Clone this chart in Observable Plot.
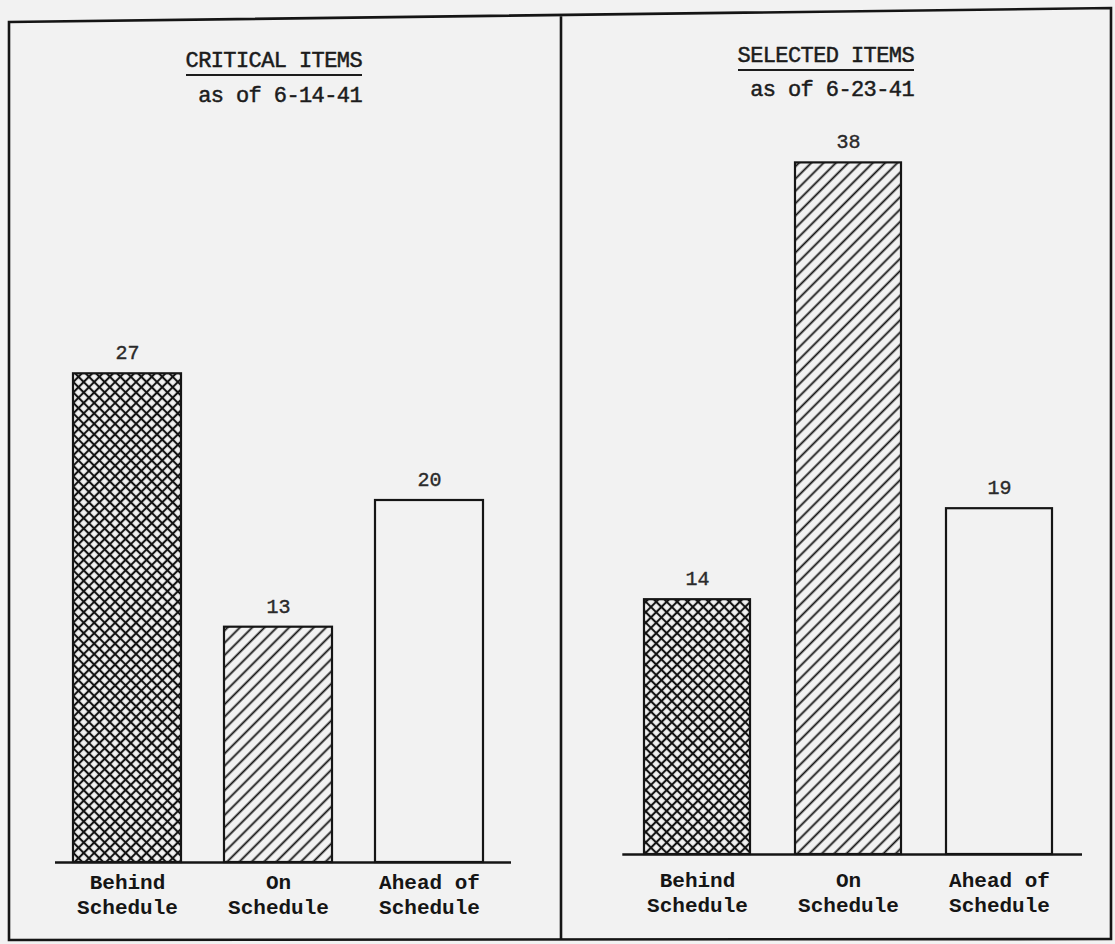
<!DOCTYPE html>
<html>
<head>
<meta charset="utf-8">
<script src="https://cdn.jsdelivr.net/npm/d3@7"></script>
<script src="https://cdn.jsdelivr.net/npm/@observablehq/plot@0.6"></script>
<style>
  html, body { margin: 0; padding: 0; background: #f2f2f2; }
  #page { position: relative; width: 1115px; height: 944px; overflow: hidden; background: #f2f2f2; }
  .panel { position: absolute; top: 0; }
  .ttl { position: absolute; font-family: "Liberation Mono", "Courier New", monospace; font-size: 22px; line-height: 22px;
         letter-spacing: -0.6px; color: #1c1c1c; text-align: right; -webkit-text-stroke: 0.5px #1c1c1c; white-space: pre; }
  .ttl span.u { display: inline-block; border-bottom: 2.5px solid #1c1c1c; line-height: 22px; padding-bottom: 1px; }
  svg.frame { position: absolute; left: 0; top: 0; pointer-events: none; }
</style>
</head>
<body>
<div id="page">
  <svg width="0" height="0" style="position:absolute">
    <defs>
      <pattern id="crosshatch" patternUnits="userSpaceOnUse" width="7.4" height="7.4" patternTransform="rotate(45)">
        <rect width="7.4" height="7.4" fill="#f2f2f2"></rect>
        <line x1="3.7" y1="0" x2="3.7" y2="7.4" stroke="#121212" stroke-width="2.1"></line>
        <line x1="0" y1="3.7" x2="7.4" y2="3.7" stroke="#121212" stroke-width="2.1"></line>
      </pattern>
      <pattern id="diagonal" patternUnits="userSpaceOnUse" width="8.7" height="8.7" patternTransform="rotate(45)">
        <rect width="8.7" height="8.7" fill="#f2f2f2"></rect>
        <line x1="4.35" y1="0" x2="4.35" y2="8.7" stroke="#121212" stroke-width="1.8"></line>
      </pattern>
    </defs>
  </svg>
</div>
<script>
// ---- data ----
const categories = ["Behind Schedule", "On Schedule", "Ahead of Schedule"];
const criticalValues = [27, 13, 20];
const selectedValues = [14, 38, 19];
const panelTitles = ["CRITICAL ITEMS", "SELECTED ITEMS"];
const panelDates = ["as of 6-14-41", "as of 6-23-41"];

const BG = "#f2f2f2";
const INK = "#151515";
const FONT = "'Liberation Mono', 'Courier New', monospace";

const page = document.getElementById("page");

function panelChart(values, cfg) {
  const data = categories.map((c, i) => ({cat: c, value: values[i]}));
  return Plot.plot({
    width: cfg.width,
    height: 944,
    marginLeft: cfg.ml, marginRight: cfg.mr, marginTop: cfg.mt, marginBottom: cfg.mb,
    x: {domain: categories, padding: cfg.pad},
    y: {domain: [0, 40], axis: null},
    color: {domain: categories, range: ["url(#crosshatch)", "url(#diagonal)", BG]},
    style: {background: "transparent", fontFamily: FONT, color: INK, overflow: "visible"},
    marks: [
      Plot.barY(data, {x: "cat", y: "value", fill: "cat", stroke: INK, strokeWidth: 2.2}),
      Plot.ruleY([0], {stroke: INK, strokeWidth: 2.5, insetLeft: cfg.il, insetRight: cfg.ir}),
      Plot.text(data, {x: "cat", y: "value", text: d => String(d.value), dy: -21, fontSize: 20,
                       fill: "#2a2a2a", stroke: "#2a2a2a", strokeWidth: 0.4}),
      Plot.axisX({tickSize: 0, tickPadding: cfg.tp, label: null, fontSize: 21, lineHeight: 1.19,
                  fontWeight: "bold", tickFormat: d => d.replace(/ (?=\S+$)/, "\n")})
    ]
  });
}

const left = panelChart(criticalValues, {width: 562, ml: 29, mr: 34.5, mt: 138, mb: 82, pad: 0.285, il: 26, ir: 16.5, tp: 9});
const right = panelChart(selectedValues, {width: 553, ml: 35.3, mr: 17, mt: 126, mb: 90, pad: 0.30, il: 25, ir: 16, tp: 15});

[[left, 0], [right, 562]].forEach(([svg, x]) => {
  const wrap = document.createElement("div");
  wrap.className = "panel";
  wrap.style.left = x + "px";
  wrap.appendChild(svg);
  page.appendChild(wrap);
});

// titles (typed headings, underlined) and dates
function addTitle(text, rightEdge, top, underline) {
  const d = document.createElement("div");
  d.className = "ttl";
  d.style.left = (rightEdge - 300) + "px";
  d.style.width = "300px";
  d.style.top = top + "px";
  if (underline) {
    const s = document.createElement("span");
    s.className = "u";
    s.textContent = text;
    d.appendChild(s);
  } else {
    d.textContent = text;
  }
  page.appendChild(d);
}
addTitle(panelTitles[0], 362, 51, true);
addTitle(panelDates[0], 362, 86, false);
addTitle(panelTitles[1], 914, 46, true);
addTitle(panelDates[1], 914, 80, false);

// outer frame and divider of the typed sheet
const frame = d3.select(page).append("svg").attr("class", "frame").attr("width", 1115).attr("height", 944);
frame.append("path")
  .attr("d", "M9,22 L1111,8 L1111,939 L9,940 Z M561,15 L561,940")
  .attr("fill", "none").attr("stroke", INK).attr("stroke-width", 2.6);
</script>
</body>
</html>
